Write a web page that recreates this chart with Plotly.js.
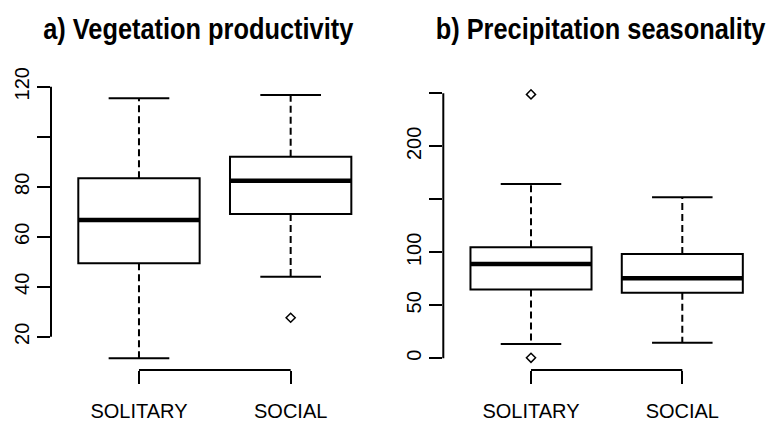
<!DOCTYPE html>
<html><head><meta charset="utf-8">
<script src="https://cdn.plot.ly/plotly-3.0.1.min.js"></script>
<style>
html,body{margin:0;padding:0;background:#fff}
#chart{width:769px;height:421px}
#chart .annotation-text{transform-box:fill-box;transform-origin:center;transform:scaleX(0.875)}
</style>
</head><body><div id="chart"></div>
<script>
// ---- data ----
const categories = ['SOLITARY', 'SOCIAL'];
const catPos = [1, 2];

// a) Vegetation productivity
const vegQ1     = [49.4, 69.1];
const vegMedian = [66.7, 82.4];
const vegQ3     = [83.4, 92.0];
const vegLower  = [11.4, 44.0];
const vegUpper  = [115.4, 116.7];
const vegOutliers = [[], [27.6]];
const vegTicks  = [20, 40, 60, 80, 100, 120];
const vegTickText = ['20', '40', '60', '80', '', '120'];

// b) Precipitation seasonality
const preQ1     = [65.0, 61.9];
const preMedian = [89.0, 75.5];
const preQ3     = [104.7, 98.4];
const preLower  = [13.5, 14.7];
const preUpper  = [164.4, 151.9];
const preOutliers = [[249, 0.5], []];
const preTicks  = [0, 50, 100, 150, 200, 250];
const preTickText = ['0', '50', '100', '', '200', ''];

const titles = ['a) Vegetation productivity', 'b) Precipitation seasonality'];

// ---- build traces ----
const BOXW = 0.8, CAPW = 0.4;
function panelTraces(q1, med, q3, lo, up, outl, xa, ya) {
  const tr = [];
  tr.push({
    type: 'box', x: catPos, q1: q1, median: med, q3: q3,
    lowerfence: q1, upperfence: q3, width: BOXW, whiskerwidth: 0,
    line: {color: '#000', width: 2}, fillcolor: '#fff',
    boxpoints: false, xaxis: xa, yaxis: ya, hoverinfo: 'skip'
  });
  const wx = [], wy = [], cx = [], cy = [], mx = [], my = [];
  catPos.forEach((p, i) => {
    wx.push(p, p, null, p, p, null);
    wy.push(q3[i], up[i], null, q1[i], lo[i], null);
    cx.push(p - CAPW / 2, p + CAPW / 2, null, p - CAPW / 2, p + CAPW / 2, null);
    cy.push(up[i], up[i], null, lo[i], lo[i], null);
    mx.push(p - BOXW / 2, p + BOXW / 2, null);
    my.push(med[i], med[i], null);
  });
  tr.push({type: 'scatter', mode: 'lines', x: wx, y: wy, xaxis: xa, yaxis: ya,
    line: {color: '#000', width: 2, dash: '7px,4px'}, hoverinfo: 'skip'});
  tr.push({type: 'scatter', mode: 'lines', x: cx, y: cy, xaxis: xa, yaxis: ya,
    line: {color: '#000', width: 2}, hoverinfo: 'skip'});
  tr.push({type: 'scatter', mode: 'lines', x: mx, y: my, xaxis: xa, yaxis: ya,
    line: {color: '#000', width: 4.5}, hoverinfo: 'skip'});
  const ox = [], oy = [];
  outl.forEach((arr, i) => arr.forEach(v => { ox.push(catPos[i]); oy.push(v); }));
  tr.push({type: 'scatter', mode: 'markers', x: ox, y: oy, xaxis: xa, yaxis: ya,
    marker: {symbol: 'diamond-open', size: 7, color: '#000', line: {width: 1.5, color: '#000'}},
    hoverinfo: 'skip'});
  return tr;
}

const data = [].concat(
  panelTraces(vegQ1, vegMedian, vegQ3, vegLower, vegUpper, vegOutliers, 'x', 'y'),
  panelTraces(preQ1, preMedian, preQ3, preLower, preUpper, preOutliers, 'x2', 'y2')
);

const W = 769, H = 421;
const FONT = '"Liberation Sans", Arial, Helvetica, sans-serif';
const xBase = {tickvals: catPos, ticktext: categories, ticks: 'outside', ticklen: 13,
  tickwidth: 2, tickcolor: '#000', showline: false, showgrid: false, zeroline: false,
  ticklabelstandoff: 10,
  tickfont: {size: 20, color: '#000', family: FONT}, fixedrange: true};
const yBase = {ticks: 'outside', ticklen: 13, tickwidth: 2, tickcolor: '#000', tickangle: -90,
  showline: false, showgrid: false, zeroline: false,
  tickfont: {size: 20, color: '#000', family: FONT}, fixedrange: true};

const yDom = [1 - 370 / H, 1 - 84 / H];
const layout = {
  width: W, height: H, margin: {l: 0, r: 0, t: 0, b: 0},
  paper_bgcolor: '#fff', plot_bgcolor: '#fff', showlegend: false,
  font: {family: FONT, color: '#000'},
  xaxis: Object.assign({}, xBase, {domain: [51 / W, 380 / W], range: [0.42, 2.589], anchor: 'y'}),
  yaxis: Object.assign({}, yBase, {domain: yDom, range: [6.7, 121.1], anchor: 'x',
    tickvals: vegTicks, ticktext: vegTickText}),
  xaxis2: Object.assign({}, xBase, {domain: [443.3 / W, 1], range: [0.4204, 2.573], anchor: 'y2'}),
  yaxis2: Object.assign({}, yBase, {domain: yDom, range: [-11.04, 258.8], anchor: 'x2',
    tickvals: preTicks, ticktext: preTickText}),
  shapes: [
    {type: 'line', xref: 'x domain', yref: 'y', x0: 0, x1: 0,
      y0: vegTicks[0], y1: vegTicks[vegTicks.length - 1], line: {color: '#000', width: 2}},
    {type: 'line', xref: 'x2 domain', yref: 'y2', x0: 0, x1: 0,
      y0: preTicks[0], y1: preTicks[preTicks.length - 1], line: {color: '#000', width: 2}},
    {type: 'line', xref: 'x', yref: 'y domain', y0: 0, y1: 0,
      x0: catPos[0], x1: catPos[catPos.length - 1], line: {color: '#000', width: 2}},
    {type: 'line', xref: 'x2', yref: 'y2 domain', y0: 0, y1: 0,
      x0: catPos[0], x1: catPos[catPos.length - 1], line: {color: '#000', width: 2}}
  ],
  annotations: [
    {text: '<b>' + titles[0] + '</b>', xref: 'paper', yref: 'paper', x: 198.4 / W, y: 1 - 29 / H,
      xanchor: 'center', yanchor: 'middle', showarrow: false, font: {family: FONT, size: 29, color: '#000'}},
    {text: '<b>' + titles[1] + '</b>', xref: 'paper', yref: 'paper', x: 600 / W, y: 1 - 29 / H,
      xanchor: 'center', yanchor: 'middle', showarrow: false, font: {family: FONT, size: 29, color: '#000'}}
  ]
};

Plotly.newPlot('chart', data, layout, {staticPlot: true, displayModeBar: false});
</script>
</body></html>
